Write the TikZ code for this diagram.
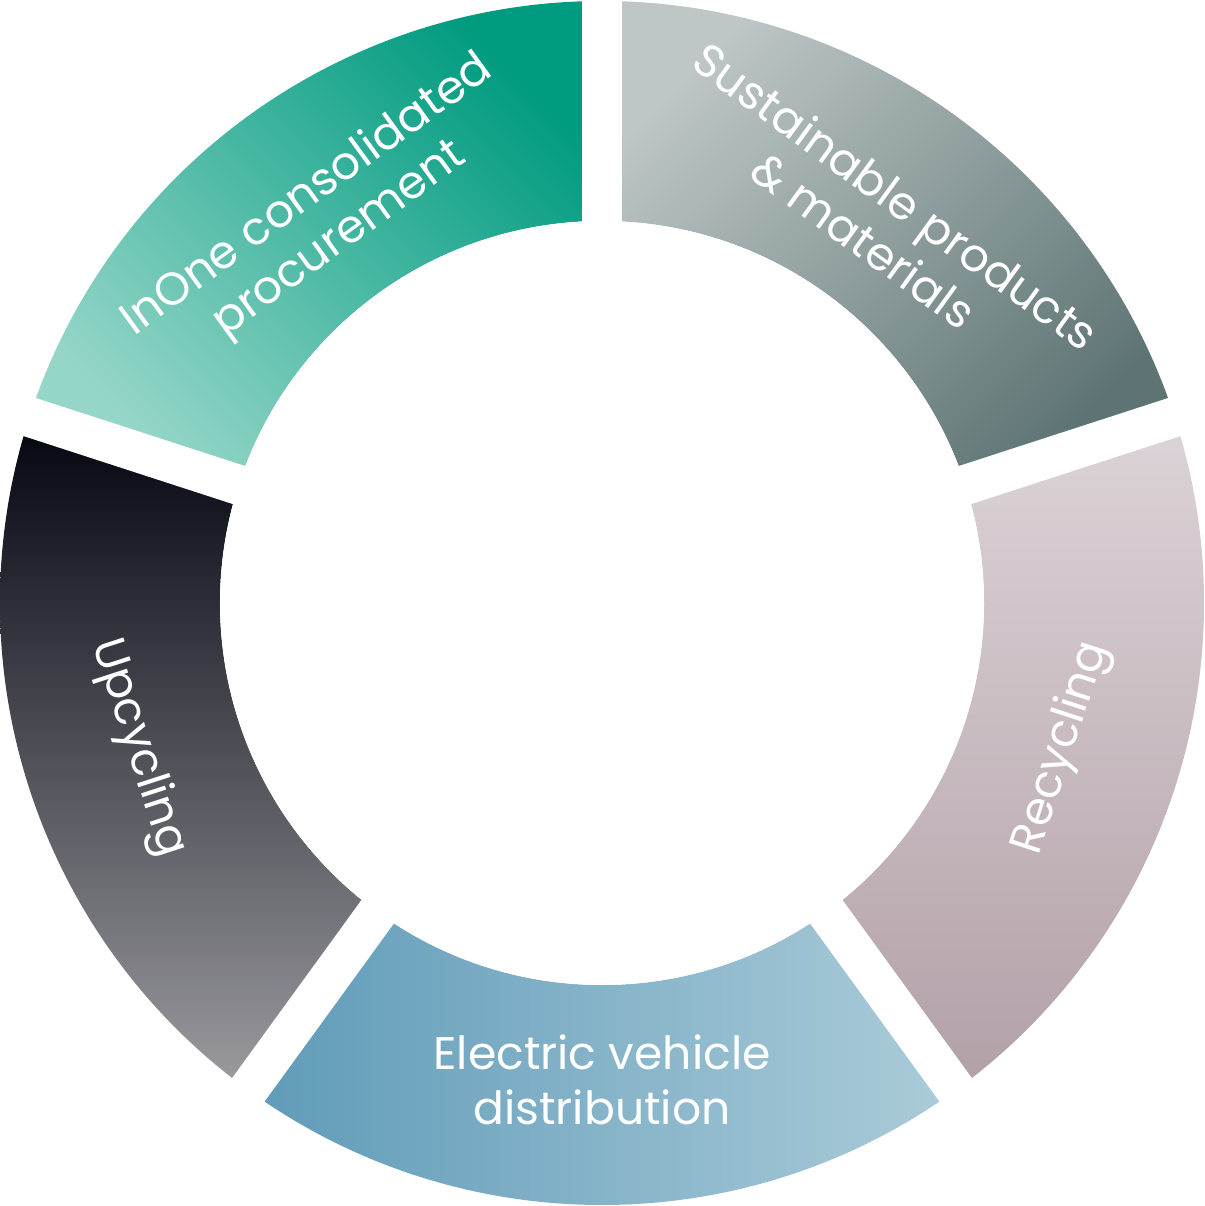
\documentclass[tikz,border=0pt]{standalone}
\usepackage{fontspec}
\setmainfont{Poppins}
\begin{document}
\begin{tikzpicture}[x=0.02cm,y=0.02cm]
\useasboundingbox (-602,-603) rectangle (602,603);
\def\RO{602}\def\RI{382}
\tikzset{lbl/.style={text=white,font=\fontsize{26}{31}\selectfont,align=center,inner sep=0pt}}
\newcommand{\seg}[3]{\shade[#3] (#1:\RO) arc[start angle=#1,end angle=#2,radius=\RO] -- (#2:\RI) arc[start angle=#2,end angle=#1,radius=\RI] -- cycle;}
\seg{90}{162}{left color={rgb,255:red,150;green,214;blue,200}, right color={rgb,255:red,0;green,155;blue,128}, shading angle=135}
\seg{18}{90}{left color={rgb,255:red,190;green,198;blue,198}, right color={rgb,255:red,94;green,116;blue,116}, shading angle=45}
\seg{-54}{18}{top color={rgb,255:red,220;green,212;blue,216}, bottom color={rgb,255:red,178;green,160;blue,167}}
\seg{-126}{-54}{left color={rgb,255:red,95;green,155;blue,184}, right color={rgb,255:red,172;green,204;blue,217}, shading angle=90}
\seg{162}{234}{top color={rgb,255:red,2;green,4;blue,14}, bottom color={rgb,255:red,155;green,155;blue,160}}
\coordinate (o) at (0,0);
\foreach \a in {90,18,-54,-126,162}{\coordinate (g\a) at (\a:650); \draw[white,line width=0.8cm] (o) -- (g\a);}
\fill[white] (0,0) circle (\RI);
\node[lbl,rotate=36] (inone) at (-278,385) {InOne consolidated\\procurement};
\node[lbl,rotate=-36] (sust) at (278,385) {Sustainable products\\\& materials};
\node[lbl,rotate=72] (recy) at (460,-145) {Recycling};
\node[lbl] (ev) at (0,-477) {Electric vehicle\\distribution};
\node[lbl,rotate=-72] (upcy) at (-464,-145) {Upcycling};
\node[text=white,font=\fontsize{44}{64}\selectfont\bfseries,align=center] (ctr) at (0,20) {Connell\\Circular\\Procurement};
\end{tikzpicture}
\end{document}
